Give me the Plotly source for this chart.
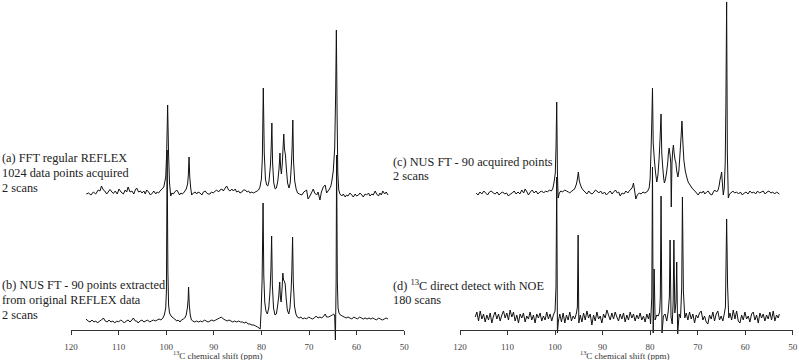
import plotly.graph_objects as go

# ---------------- data (chemical shift in ppm, intensity in arbitrary units above each baseline) ----------------
tick_vals = [120, 110, 100, 90, 80, 70, 60, 50]
tick_text = ["120", "110", "100", "90", "80", "70", "60", "50"]

ppm_a = [
    116.8, 116.3, 115.8, 115.3, 114.8, 114.3, 113.9, 113.6, 113.2, 112.9,
    112.5, 112.2, 111.8, 111.4, 111.1, 110.7, 110.3, 109.9, 109.5, 109.0,
    108.6, 108.3, 108.0, 107.6, 107.2, 106.8, 106.5, 106.2, 105.8, 105.4,
    105.1, 104.7, 104.4, 104.1, 103.7, 103.3, 102.9, 102.6, 102.2, 101.9,
    101.6, 101.3, 100.9, 100.5, 100.1, 99.9, 99.7, 99.5, 99.3, 99.05,
    98.8, 98.5, 98.2, 97.8, 97.5, 97.2, 96.9, 96.6, 96.2, 95.8,
    95.5, 95.35, 95.2, 95.05, 94.85, 94.65, 94.3, 93.9, 93.6, 93.3,
    92.9, 92.5, 92.2, 91.8, 91.5, 91.2, 90.8, 90.5, 90.1, 89.7,
    89.4, 89.0, 88.7, 88.3, 88.0, 87.6, 87.3, 86.9, 86.6, 86.2,
    85.9, 85.5, 85.2, 84.8, 84.5, 84.1, 83.8, 83.4, 83.0, 82.7,
    82.4, 82.0, 81.7, 81.3, 80.9, 80.6, 80.3, 80.0, 79.8, 79.6,
    79.4, 79.15, 78.9, 78.65, 78.4, 78.1, 77.95, 77.8, 77.65, 77.4,
    77.1, 76.85, 76.55, 76.3, 76.1, 75.95, 75.8, 75.6, 75.45, 75.3,
    75.15, 74.95, 74.75, 74.5, 74.2, 73.95, 73.7, 73.55, 73.4, 73.25,
    73.0, 72.7, 72.4, 72.0, 71.5, 71.1, 70.8, 70.5, 70.2, 69.8,
    69.4, 69.1, 68.8, 68.4, 68.1, 67.7, 67.4, 67.0, 66.6, 66.3,
    66.0, 65.7, 65.4, 65.2, 64.9, 64.6, 64.4, 64.25, 64.1, 63.95,
    63.75, 63.5, 63.1, 62.8, 62.4, 62.1, 61.8, 61.4, 61.0, 60.7,
    60.3, 60.0, 59.6, 59.3, 58.9, 58.6, 58.2, 57.9, 57.5, 57.2,
    56.8, 56.5, 56.1, 55.8, 55.4, 55.1, 54.8, 54.5, 54.1, 53.8,
    53.4]
int_a = [
    -1, 0, -2, 1, -1, 3, 2, 7, 3, 2,
    -1, 1, 3.5, 1, -0.5, 2, -1, 4, 1, -1,
    3, 1, 6, 1, 2, -1, 3, 5, 1, 2,
    0, 2, -1, 3, 1, -2, 0, 2, -1, 1,
    0, 2, 4, 6, 16, 40, 88, 38, 10, -3,
    0, -1, 1, 3, 1, -2, 0, -1, 1, 4,
    9, 18, 36, 16, 5, -2, 0, 1, -1, 1,
    0, -2, 1, 2, 0, -1, -1, 1, 0, 2,
    3, 1, 3, 4, 2, 5, 7, 3, 2, 4,
    2, 4, 1, 2, 0, 1, 3, 3, 1, 2,
    0, 1, 0, 1, 2, 3, 6, 14, 35, 105,
    40, 14, 8, 7, 12, 28, 45, 70, 30, 10,
    4, 5, 12, 24, 40, 25, 19, 30, 45, 59,
    44, 38, 24, 10, 5, 10, 28, 45, 73, 32,
    12, 4, 0, -1, -2, 1, 2, 3, -6, -3,
    1, 4, 0, -2, 1, -7, 1, 6, 8, 0,
    2, 4, 7, 12, 22, 45, 100, 163, 80, 20,
    3, -1, -3, -1, -4, -2, -3, 0, -2, -4,
    -1, -3, -2, 0, -2, -4, -1, -2, 0, -3,
    -1, -2, 2, -1, -3, 0, -2, 2, -1, 1,
    -2]

ppm_b = [
    116.85, 116.4, 116.0, 115.6, 115.2, 114.8, 114.4, 114.0, 113.6, 113.2,
    112.8, 112.4, 112.0, 111.6, 111.2, 110.8, 110.4, 110.0, 109.6, 109.2,
    108.8, 108.4, 108.0, 107.6, 107.2, 106.9, 106.5, 106.2, 105.9, 105.5,
    105.1, 104.7, 104.3, 103.9, 103.5, 103.1, 102.7, 102.3, 101.9, 101.5,
    101.1, 100.7, 100.4, 100.1, 99.95, 99.8, 99.65, 99.5, 99.3, 99.1,
    98.8, 98.5, 98.2, 97.8, 97.5, 97.1, 96.8, 96.4, 96.1, 95.8,
    95.55, 95.4, 95.3, 95.15, 94.95, 94.7, 94.4, 94.0, 93.6, 93.2,
    92.8, 92.4, 92.0, 91.6, 91.2, 90.8, 90.4, 90.0, 89.6, 89.2,
    88.8, 88.4, 88.0, 87.6, 87.2, 86.8, 86.4, 86.0, 85.6, 85.2,
    84.8, 84.4, 84.0, 83.6, 83.2, 82.8, 82.4, 82.0, 81.6, 81.2,
    80.8, 80.5, 80.25, 80.05, 79.85, 79.65, 79.5, 79.3, 79.05, 78.75,
    78.45, 78.2, 78.0, 77.85, 77.7, 77.45, 77.15, 76.85, 76.6, 76.35,
    76.15, 76.0, 75.85, 75.65, 75.5, 75.35, 75.2, 75.0, 74.8, 74.55,
    74.25, 74.0, 73.75, 73.6, 73.45, 73.3, 73.05, 72.75, 72.45, 72.1,
    71.7, 71.3, 70.9, 70.5, 70.1, 69.7, 69.3, 68.9, 68.5, 68.1,
    67.7, 67.3, 66.9, 66.6, 66.3, 65.9, 65.5, 65.1, 64.8, 64.6,
    64.45, 64.3, 64.2, 64.05, 63.9, 63.7, 63.4, 63.0, 62.6, 62.2,
    61.8, 61.4, 61.0, 60.6, 60.2, 59.8, 59.4, 59.0, 58.6, 58.2,
    57.8, 57.4, 57.0, 56.6, 56.2, 55.8, 55.4, 55.0, 54.6, 54.2,
    53.8, 53.4]
int_b = [
    1, -1, -2, 0, -2, -1, -3, -1, 0, 2,
    -1, -2, 0, -2, -1, -3, -1, -2, 0, -1,
    -3, -1, 0, -2, 0, 2, -1, -1, -3, -1,
    0, -2, -1, 0, -2, -1, 0, -1, 0, 1,
    0, 2, 5, 12, 30, 170, 50, 15, 7, 5,
    3, 2, 1, -1, 0, -2, 0, 1, 2, 5,
    12, 20, 33, 15, 5, 0, -1, -2, -1, -2,
    -1, -2, 0, -1, -2, -1, 0, -1, 0, 1,
    2, 3, 1, 0, -1, 0, -1, -2, -1, -2,
    -1, -2, -2, -3, -2, -4, -4, -5, -5, -6,
    -7, -8, -9, 10, 40, 117, 45, 18, 9, 6,
    12, 28, 50, 84, 35, 12, 5, 6, 14, 24,
    38, 22, 18, 32, 47, 40, 39, 36, 22, 10,
    6, 12, 30, 50, 83, 38, 14, 6, 3, 2,
    3, 1, 2, 1, 3, 2, 1, 2, 4, 2,
    3, 2, 4, 6, 3, 3, 4, 5, 6, 4,
    -20, 40, 165, 40, 12, 7, 5, 4, 3, 2,
    3, 2, 1, 3, 2, 1, 3, 2, 1, 2,
    1, 2, 1, 2, 1, 0, 2, 1, 0, 1,
    2, 1]

ppm_c = [
    116.6, 116.2, 115.8, 115.4, 115.0, 114.6, 114.2, 113.8, 113.4, 113.0,
    112.6, 112.2, 111.8, 111.4, 111.0, 110.6, 110.2, 109.8, 109.4, 109.0,
    108.6, 108.2, 107.8, 107.4, 107.0, 106.6, 106.3, 105.9, 105.6, 105.2,
    104.8, 104.4, 104.0, 103.6, 103.2, 102.8, 102.4, 102.0, 101.6, 101.2,
    100.8, 100.5, 100.2, 99.95, 99.8, 99.65, 99.5, 99.35, 99.1, 98.8,
    98.4, 98.0, 97.6, 97.2, 96.9, 96.5, 96.1, 95.8, 95.5, 95.3,
    95.1, 94.9, 94.65, 94.4, 94.1, 93.7, 93.3, 92.9, 92.6, 92.2,
    91.8, 91.5, 91.2, 90.8, 90.4, 90.0, 89.6, 89.2, 88.8, 88.4,
    88.0, 87.7, 87.3, 86.9, 86.6, 86.3, 85.9, 85.5, 85.1, 84.7,
    84.4, 84.0, 83.7, 83.5, 83.25, 83.0, 82.7, 82.3, 81.9, 81.5,
    81.1, 80.7, 80.4, 80.2, 80.0, 79.8, 79.65, 79.5, 79.35, 79.1,
    78.85, 78.6, 78.35, 78.1, 77.9, 77.7, 77.55, 77.35, 77.15, 77.0,
    76.8, 76.55, 76.3, 76.15, 76.0, 75.8, 75.65, 75.55, 75.4, 75.25,
    75.1, 74.95, 74.75, 74.6, 74.4, 74.15, 73.95, 73.7, 73.5, 73.3,
    73.1, 72.9, 72.6, 72.3, 72.0, 71.6, 71.2, 70.8, 70.4, 69.9,
    69.5, 69.1, 68.8, 68.5, 68.1, 67.8, 67.4, 67.0, 66.7, 66.4,
    66.0, 65.7, 65.45, 65.3, 65.1, 64.95, 64.8, 64.6, 64.4, 64.2,
    64.05, 63.9, 63.75, 63.55, 63.3, 63.0, 62.6, 62.2, 61.8, 61.4,
    61.0, 60.6, 60.2, 59.8, 59.4, 59.0, 58.6, 58.2, 57.8, 57.4,
    57.0, 56.6, 56.2, 55.8, 55.4, 55.0, 54.6, 54.2, 53.8, 53.4,
    52.8]
int_c = [
    0, -2, 1, -1, 2, 0, -2, 1, 2, 0,
    -1, 1, -2, 0, 1, -1, 0, -3, -1, 0,
    2, -1, 1, -1, 3, 0, 4, 1, -2, 1,
    3, 0, 2, -1, 1, 2, 0, 2, 1, 3,
    2, 4, 11, 20, 45, 91, 20, -5, 0, 2,
    1, 3, 2, 1, 0, 2, 3, 5, 9, 14,
    21, 12, 8, 5, 3, 1, -1, 2, 0, -1,
    1, 3, 2, 0, 2, -1, 1, -2, 0, 2,
    -1, 1, 3, 0, 1, -3, 0, -1, 2, 0,
    2, 4, 6, 10, 2, -6, -2, 0, -1, 1,
    0, 1, 3, 5, 14, 43, 70, 105, 50, 33,
    20, 11, 18, 35, 55, 79, 40, 26, 15, 10,
    13, 20, 30, 40, 45, 38, 30, -14, 30, 42,
    48, 40, 33, 31, 22, 16, 22, 40, 55, 72,
    50, 33, 22, 16, 11, 8, 5, 3, 1, -2,
    1, 0, 2, -1, 1, 2, -1, -2, 1, 3,
    1, 3, 8, 13, 17, 21, 10, -2, 5, 30,
    90, 191, 40, -5, -1, 0, 2, 0, 1, -1,
    1, -2, 0, 1, -1, 2, 0, 1, -1, 2,
    0, 1, 2, -1, 1, 2, 0, 1, -1, 1,
    -1]

ppm_d = [
    116.8, 116.45, 116.1, 115.75, 115.4, 115.05, 114.7, 114.35, 114.0, 113.65,
    113.3, 112.95, 112.6, 112.25, 111.9, 111.55, 111.2, 110.85, 110.5, 110.15,
    109.8, 109.45, 109.1, 108.75, 108.4, 108.05, 107.7, 107.35, 107.0, 106.65,
    106.3, 105.95, 105.6, 105.25, 104.9, 104.55, 104.2, 103.85, 103.5, 103.15,
    102.8, 102.45, 102.1, 101.75, 101.4, 101.05, 100.7, 100.35, 100.0, 99.8,
    99.65, 99.5, 99.3, 99.0, 98.65, 98.3, 97.95, 97.6, 97.25, 96.9,
    96.55, 96.2, 95.85, 95.5, 95.3, 95.15, 95.0, 94.7, 94.35, 94.0,
    93.65, 93.3, 92.95, 92.6, 92.25, 91.9, 91.55, 91.2, 90.85, 90.5,
    90.15, 89.8, 89.45, 89.1, 88.75, 88.4, 88.05, 87.7, 87.35, 87.0,
    86.65, 86.3, 85.95, 85.6, 85.25, 84.9, 84.55, 84.2, 83.85, 83.5,
    83.15, 82.8, 82.45, 82.1, 81.75, 81.4, 81.05, 80.7, 80.35, 80.1,
    79.9, 79.65, 79.5, 79.35, 79.15, 78.95, 78.6, 78.3, 78.0, 77.85,
    77.7, 77.5, 77.2, 76.85, 76.5, 76.2, 75.95, 75.8, 75.6, 75.35,
    75.15, 75.0, 74.8, 74.55, 74.4, 74.2, 73.9, 73.6, 73.35, 73.2,
    73.0, 72.7, 72.4, 72.05, 71.7, 71.35, 71.0, 70.65, 70.3, 69.95,
    69.6, 69.25, 68.9, 68.55, 68.2, 67.85, 67.5, 67.15, 66.8, 66.45,
    66.1, 65.75, 65.4, 65.05, 64.7, 64.4, 64.15, 63.9, 63.7, 63.45,
    63.2, 62.85, 62.5, 62.15, 61.8, 61.45, 61.1, 60.75, 60.4, 60.05,
    59.7, 59.35, 59.0, 58.65, 58.3, 57.95, 57.6, 57.25, 56.9, 56.55,
    56.2, 55.85, 55.5, 55.15, 54.8, 54.45, 54.1, 53.75, 53.4, 53.05,
    52.8]
int_d = [
    0, 5, -4, 6, -2, 3, -5, 2, -3, 4,
    -6, 1, 5, -2, 3, -4, 2, 6, -1, 4,
    -3, 7, 0, 5, -4, 2, -6, 3, -1, 4,
    -5, 1, -2, 5, -3, 2, -6, 3, -1, 4,
    -4, 1, -3, 5, -2, 3, -4, 2, 6, 30,
    140, -16, -4, 3, -5, 4, -6, 2, -3, 5,
    -4, 1, -2, 4, 10, 82, -6, 2, -5, 4,
    -3, 6, -1, 3, -8, 2, -4, 5, -2, 1,
    -6, 3, -1, 7, 2, -3, 4, -2, 5, 0,
    -4, 3, -2, 4, -5, 2, -3, 5, -1, 3,
    -4, 2, -2, 4, -3, 1, -5, 3, -2, 4,
    -7, 20, 150, -16, 48, -3, 2, 1, 5, 20,
    121, -16, 1, 3, -4, 5, 20, 77, 0, -7,
    15, 77, 4, 15, 55, -17, 3, -1, 30, 120,
    26, -1, 4, -3, 5, -2, 3, -6, 2, -1,
    4, 6, -3, 1, -5, -7, 2, -2, 5, -4,
    3, 6, -3, 1, -4, 3, 10, 98, 31, -1,
    4, -3, 7, -2, 6, -4, -6, 2, -3, 5,
    -2, 1, -5, 3, 5, -3, 2, -6, 4, -1,
    3, -4, 2, -2, 5, -3, 6, -4, 2, -1,
    3]

labels_a = ["(a) FFT regular REFLEX", "1024 data points acquired", "2 scans"]
labels_b = ["(b) NUS FT - 90 points extracted", "from original REFLEX data", "2 scans"]
labels_c = ["(c) NUS FT - 90 acquired points", "2 scans"]
labels_d = ["(d) <sup>13</sup>C direct detect with NOE", "180 scans"]
axis_title = "<sup>13</sup>C chemical shift (ppm)"

# ---------------- layout constants (pixels) ----------------
W, H = 799, 360
PLOT_H = 350            # plot area height (margin bottom 10)
Y0 = 330                # pixel row of the axis line (data 0)
off_a, off_b, off_c, off_d = 137, 10, 137, 13   # stacking offsets
SERIF = "Liberation Serif, Times New Roman, serif"
LINE = "#111111"


def py(pix):
    """pixel row -> paper y"""
    return (PLOT_H - pix) / PLOT_H


fig = go.Figure()
for ppm, inten, off, xa in [
    (ppm_a, int_a, off_a, "x"),
    (ppm_b, int_b, off_b, "x"),
    (ppm_c, int_c, off_c, "x2"),
    (ppm_d, int_d, off_d, "x2"),
]:
    fig.add_trace(go.Scatter(
        x=ppm, y=[v + off for v in inten], xaxis=xa, yaxis="y",
        mode="lines", line=dict(color=LINE, width=1, simplify=False),
        hoverinfo="skip", showlegend=False))

axis_common = dict(
    range=[120, 50], tickmode="array", tickvals=tick_vals, ticktext=tick_text,
    ticks="outside", ticklen=4, tickwidth=1, tickcolor="#333333",
    showline=True, linecolor="#333333", linewidth=1,
    showgrid=False, zeroline=False, anchor="free", position=(PLOT_H - Y0) / PLOT_H,
    tickfont=dict(family=SERIF, size=9, color="#444444"),
    ticklabelstandoff=4, automargin=False, fixedrange=True,
)

annotations = []
def add_lines(lines, x_pix, y_pixels):
    for t, yp in zip(lines, y_pixels):
        annotations.append(dict(
            text=t, x=x_pix / W, y=py(yp), xref="paper", yref="paper",
            xanchor="left", yanchor="middle", showarrow=False,
            font=dict(family=SERIF, size=12.3, color="#222222")))

add_lines(labels_a, 0, [158, 173, 187.5])
add_lines(labels_b, 0, [285, 300, 314.5])
add_lines(labels_c, 391, [162, 176.5])
add_lines(labels_d, 391, [285, 299.5])

for xc in (218, 624.5):
    annotations.append(dict(
        text=axis_title, x=xc / W, y=py(355), xref="paper", yref="paper",
        xanchor="center", yanchor="middle", showarrow=False,
        font=dict(family=SERIF, size=9, color="#333333")))

fig.update_layout(
    width=W, height=H, margin=dict(l=0, r=0, t=0, b=H - PLOT_H, pad=0),
    template="none", paper_bgcolor="white", plot_bgcolor="white",
    showlegend=False,
    xaxis=dict(domain=[71 / W, 404.2 / W], **axis_common),
    xaxis2=dict(domain=[460 / W, 792.7 / W], **axis_common),
    yaxis=dict(domain=[0, 1], range=[Y0 - PLOT_H, Y0], visible=False,
               fixedrange=True, showgrid=False, zeroline=False),
    annotations=annotations,
)

fig.write_html("out.html",
               config={"displayModeBar": False, "staticPlot": True},
               post_script="document.body.style.margin='0';document.body.style.overflow='hidden';")
